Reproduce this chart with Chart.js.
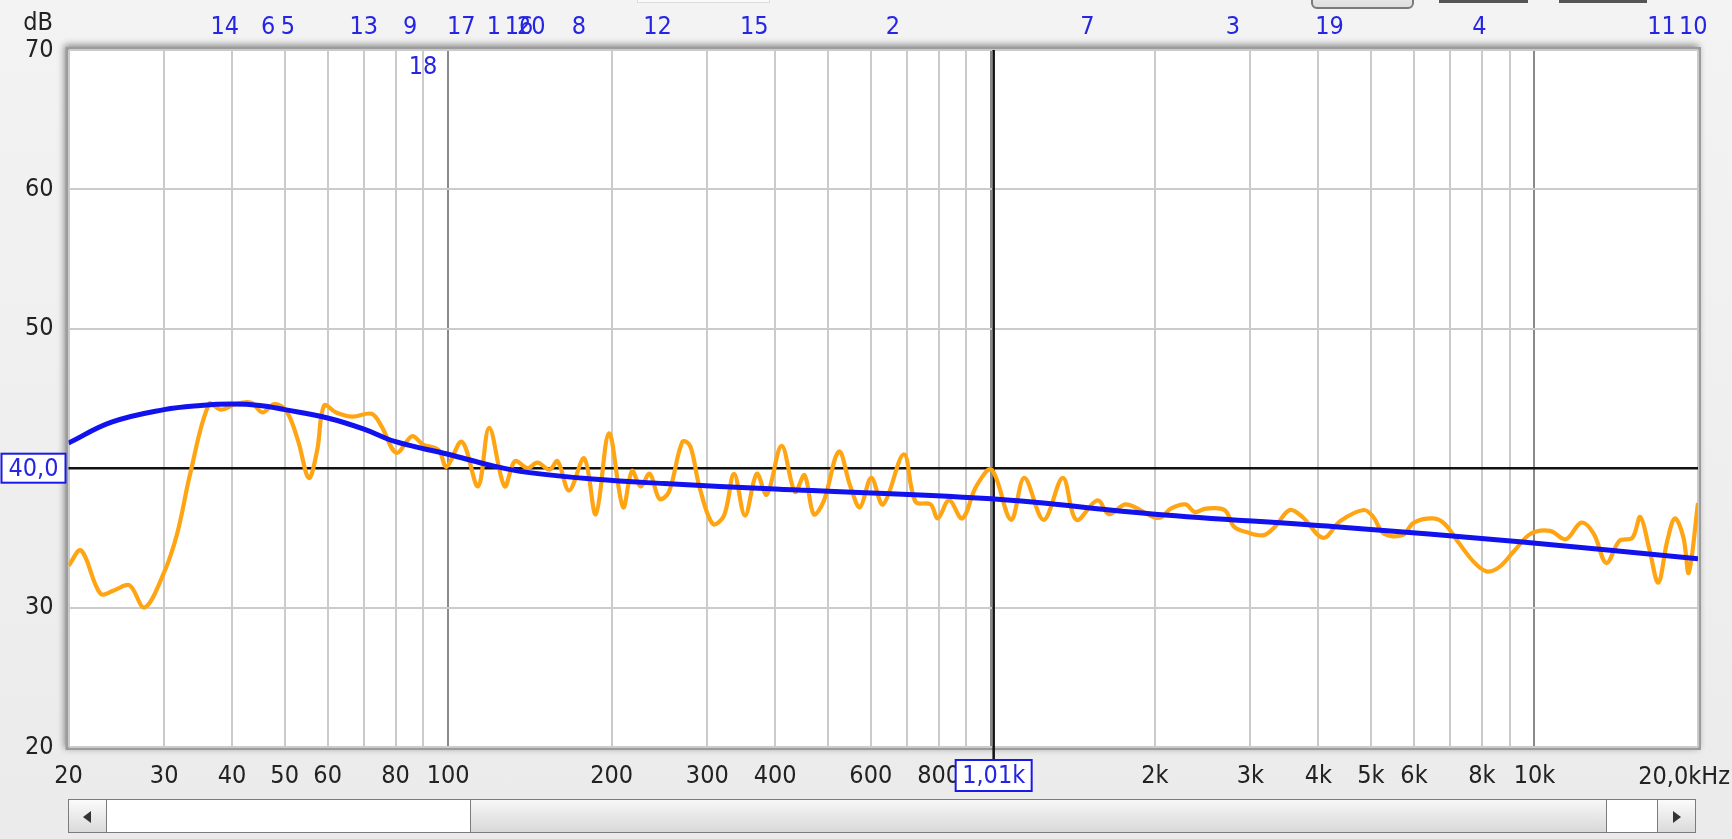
<!DOCTYPE html>
<html>
<head>
<meta charset="utf-8">
<script src="https://cdn.jsdelivr.net/npm/chart.js@4.4.1/dist/chart.umd.min.js"></script>
<style>
  html, body { margin: 0; padding: 0; overflow: hidden; background: #eeeeee; }
  #wrap { position: relative; width: 1732px; height: 839px; background: linear-gradient(#f3f3f3, #ebebeb); }
  #chart { position: absolute; left: 0; top: 0; }
  .sb { position: absolute; box-sizing: border-box; }
  .btn { background: linear-gradient(#fbfbfb, #dadada); border: 1px solid #7c7c7c; }
  .tri { position: absolute; top: 11px; width: 0; height: 0; border-top: 6px solid transparent; border-bottom: 6px solid transparent; }
</style>
</head>
<body>
<div id="wrap">
  <canvas id="chart" width="1732" height="839"></canvas>
  <!-- controles de arriba, cortados -->
  <div class="sb" style="left:1311px;top:-20px;width:103px;height:29px;border:2px solid #7a7a7a;border-radius:6px;background:linear-gradient(#f6f6f6,#dedede)"></div>
  <div class="sb" style="left:1439px;top:0;width:89px;height:3px;background:#555"></div>
  <div class="sb" style="left:1559px;top:0;width:88px;height:3px;background:#555"></div>
  <div class="sb" style="left:637px;top:0;width:133px;height:3px;background:#fafafa;border:1px solid #dcdcdc;border-top:none"></div>
  <!-- barra de desplazamiento -->
  <div class="sb" style="left:68px;top:799px;width:1628px;height:34px;border:1px solid #7c7c7c;background:#fff"></div>
  <div class="sb btn" style="left:68px;top:799px;width:39px;height:34px"><div class="tri" style="left:14px;border-right:8px solid #333"></div></div>
  <div class="sb" style="left:470px;top:799px;width:1137px;height:34px;border:1px solid #7c7c7c;background:linear-gradient(#f7f7f7,#d8d8d8)"></div>
  <div class="sb btn" style="left:1657px;top:799px;width:39px;height:34px"><div class="tri" style="left:15px;border-left:8px solid #333"></div></div>
</div>
<script>
// Respuesta medida (naranja)
const measFreq = [20, 21.1, 22.9, 24.3, 25.9, 27.6, 29.9, 31.7, 33.5, 36.3, 38.2, 40.6, 43.4, 45.5, 47.9, 50.4, 52.9, 55.4, 57.4, 59.1,
  62.2, 66.6, 72.3, 75.4, 80.3, 85.8, 89.9, 96, 99.3, 106, 113.5, 119, 127, 132.7, 140, 146, 153.7, 159, 167, 178,
  187, 197.7, 209.9, 218, 226, 235, 245, 255, 270, 279, 290, 307, 322, 336, 352, 370, 386, 411, 435, 453,
  471, 491, 524, 550, 573, 601, 632, 690, 725, 773, 797, 836, 884, 938, 1001, 1087, 1150, 1248, 1354, 1434,
  1568, 1646, 1771, 1987, 2058, 2140, 2278, 2370, 2484, 2688, 2798, 2956, 3172, 3328, 3542, 3740, 4083, 4385, 4849, 5049,
  5283, 5716, 5998, 6512, 6836, 7237, 7720, 8160, 8610, 9190, 9840, 10690, 11420, 12200, 12850, 13560, 14340, 15140, 15660, 16250,
  16900, 17560, 18140, 18810, 19230, 20000];
const measDb = [33.0, 34.1, 31.0, 31.25, 31.6, 30.0, 32.4, 35.3, 39.6, 44.6, 44.2, 44.6, 44.7, 44.0, 44.6, 44.1, 42.0, 39.3, 41.3, 44.5,
  44.0, 43.7, 43.9, 43.0, 41.1, 42.3, 41.7, 41.3, 40.1, 41.9, 38.7, 42.9, 38.7, 40.5, 40.0, 40.4, 39.9, 40.5, 38.4, 40.7,
  36.7, 42.5, 37.2, 39.8, 38.7, 39.6, 37.8, 38.3, 41.9, 41.6, 38.7, 36.0, 36.6, 39.6, 36.6, 39.6, 38.1, 41.6, 38.3, 39.5,
  36.7, 37.6, 41.2, 38.7, 37.2, 39.3, 37.4, 41.0, 37.6, 37.4, 36.4, 37.7, 36.4, 38.7, 39.9, 36.3, 39.3, 36.3, 39.3, 36.3,
  37.7, 36.7, 37.4, 36.5, 36.5, 37.1, 37.4, 36.85, 37.1, 37.0, 35.8, 35.4, 35.2, 35.8, 37.0, 36.5, 35.0, 36.2, 37.0, 36.5,
  35.3, 35.2, 36.1, 36.4, 36.0, 34.7, 33.3, 32.6, 32.9, 34.1, 35.3, 35.5, 34.9, 36.1, 35.3, 33.2, 34.8, 35.0, 36.5, 34.3,
  31.8, 34.8, 36.4, 35.0, 32.5, 37.5];

// Curva objetivo (azul)
const fitFreq = [20, 24, 30, 35, 40, 45, 50, 60, 70, 80, 100, 120, 140, 187, 250, 400, 1000, 2000, 4300, 9500, 20000];
const fitDb = [41.8, 43.3, 44.2, 44.5, 44.6, 44.5, 44.2, 43.6, 42.8, 41.9, 41.0, 40.2, 39.7, 39.2, 38.9, 38.5, 37.8, 36.7, 35.8, 34.7, 33.5];

// Ejes
const tickFreqs = [20, 30, 40, 50, 60, 70, 80, 90, 100, 200, 300, 400, 500, 600, 700, 800, 900, 1000,
  2000, 3000, 4000, 5000, 6000, 7000, 8000, 9000, 10000, 20000];
const tickLabels = ['20', '30', '40', '50', '60', '', '80', '', '100', '200', '300', '400', '', '600', '', '800', '', '',
  '2k', '3k', '4k', '5k', '6k', '', '8k', '', '10k', ''];
const dbTicks = [20, 30, 40, 50, 60, 70];

// Marcas de modos (arriba)
const modeNums = ['14', '6', '5', '13', '9', '18', '17', '1', '16', '20', '8', '12', '15', '2', '7', '3', '19', '4', '11', '10'];
const modeFreqs = [38.8, 46.6, 50.7, 69.9, 85.1, 89.9, 105.7, 121.4, 135.1, 142.2, 174, 242.9, 366, 659, 1502, 2784, 4193, 7918, 17130, 19600];

const cursorFreq = 1010;
const cursorDb = 40;

const FAMILY = '"DejaVu Sans Condensed", "DejaVu Sans"';
const FONT = '25px ' + FAMILY;
const BLUE_TXT = '#2626e2';

function toXY(xs, ys) {
    return xs.map((x, i) => ({ x: x, y: ys[i] }));
}

// Marco con sombra del area del grafico
const framePlugin = {
    id: 'frame',
    beforeDraw(chart) {
        const { ctx, chartArea: a } = chart;
        ctx.save();
        ctx.shadowColor = 'rgba(0,0,0,0.45)';
        ctx.shadowBlur = 7;
        ctx.shadowOffsetX = -2;
        ctx.shadowOffsetY = -2;
        ctx.fillStyle = '#9c9c9c';
        ctx.fillRect(a.left - 3, a.top - 3, a.width + 6, a.height + 6);
        ctx.restore();
        ctx.fillStyle = '#ffffff';
        ctx.fillRect(a.left, a.top, a.width, a.height);
    }
};

// Cursor (lineas negras)
const cursorPlugin = {
    id: 'cursor',
    beforeDatasetsDraw(chart) {
        const { ctx, chartArea: a, scales } = chart;
        const x = scales.x.getPixelForValue(cursorFreq);
        const y = scales.y.getPixelForValue(cursorDb);
        ctx.save();
        ctx.strokeStyle = '#111';
        ctx.lineWidth = 2.5;
        ctx.beginPath();
        ctx.moveTo(a.left, y); ctx.lineTo(a.right, y);
        ctx.moveTo(x, a.top); ctx.lineTo(x, a.bottom + 14);
        ctx.stroke();
        ctx.restore();
    }
};

function boxLabel(ctx, text, cx, cy, w, h) {
    ctx.fillStyle = '#fff';
    ctx.fillRect(cx - w / 2, cy - h / 2, w, h);
    ctx.strokeStyle = '#1a1ae8';
    ctx.lineWidth = 2;
    ctx.strokeRect(cx - w / 2, cy - h / 2, w, h);
    ctx.fillStyle = BLUE_TXT;
    ctx.textAlign = 'center';
    ctx.textBaseline = 'middle';
    ctx.fillText(text, cx, cy + 1);
}

// Textos extra: dB, modos, cajas del cursor, 20,0kHz
const labelsPlugin = {
    id: 'labels',
    afterDraw(chart) {
        const { ctx, scales } = chart;
        ctx.save();
        ctx.font = FONT;
        ctx.textBaseline = 'middle';
        ctx.fillStyle = '#222';
        ctx.textAlign = 'right';
        ctx.fillText('dB', 53, 23);
        ctx.fillText('20,0kHz', 1730, 777);

        ctx.fillStyle = BLUE_TXT;
        ctx.textAlign = 'center';
        modeNums.forEach((n, i) => {
            const x = scales.x.getPixelForValue(modeFreqs[i]);
            ctx.fillText(n, x, n === '18' ? 67 : 27);
        });

        boxLabel(ctx, '40,0', 33.5, scales.y.getPixelForValue(cursorDb), 64, 29);
        boxLabel(ctx, '1,01k', scales.x.getPixelForValue(cursorFreq), 775.5, 76, 31);
        ctx.restore();
    }
};

new Chart(document.getElementById('chart').getContext('2d'), {
    type: 'line',
    data: {
        datasets: [
            {
                data: toXY(fitFreq, fitDb),
                borderColor: '#1212ee',
                borderWidth: 5,
                pointRadius: 0,
                tension: 0.4,
                order: 0
            },
            {
                data: toXY(measFreq, measDb),
                borderColor: '#ffa412',
                borderWidth: 4.2,
                pointRadius: 0,
                tension: 0.35,
                order: 1
            }
        ]
    },
    options: {
        responsive: false,
        animation: false,
        layout: { padding: { top: 50, right: 34, left: 0, bottom: 0 } },
        plugins: {
            legend: { display: false },
            tooltip: { enabled: false }
        },
        scales: {
            x: {
                type: 'logarithmic',
                min: 20,
                max: 20000,
                afterBuildTicks: s => { s.ticks = tickFreqs.map(v => ({ value: v })); },
                afterFit: s => { s.height = 92; },
                border: { display: false },
                grid: {
                    drawTicks: false,
                    lineWidth: 2,
                    color: c => (c.tick && [100, 1000, 10000].includes(c.tick.value)) ? '#8a8a8a' : '#cbcbcb'
                },
                ticks: {
                    autoSkip: false,
                    maxRotation: 0,
                    padding: 14,
                    color: '#222',
                    font: { family: FAMILY, size: 25 },
                    callback: (v, i) => tickLabels[i]
                }
            },
            y: {
                min: 20,
                max: 70,
                afterBuildTicks: s => { s.ticks = dbTicks.map(v => ({ value: v })); },
                afterFit: s => { s.width = 68.5; },
                border: { display: false },
                grid: { drawTicks: false, lineWidth: 2, color: '#cbcbcb' },
                ticks: {
                    padding: 15,
                    color: '#222',
                    font: { family: FAMILY, size: 25 },
                    callback: v => (v === cursorDb ? '' : String(v))
                }
            }
        }
    },
    plugins: [framePlugin, cursorPlugin, labelsPlugin]
});
</script>
</body>
</html>
